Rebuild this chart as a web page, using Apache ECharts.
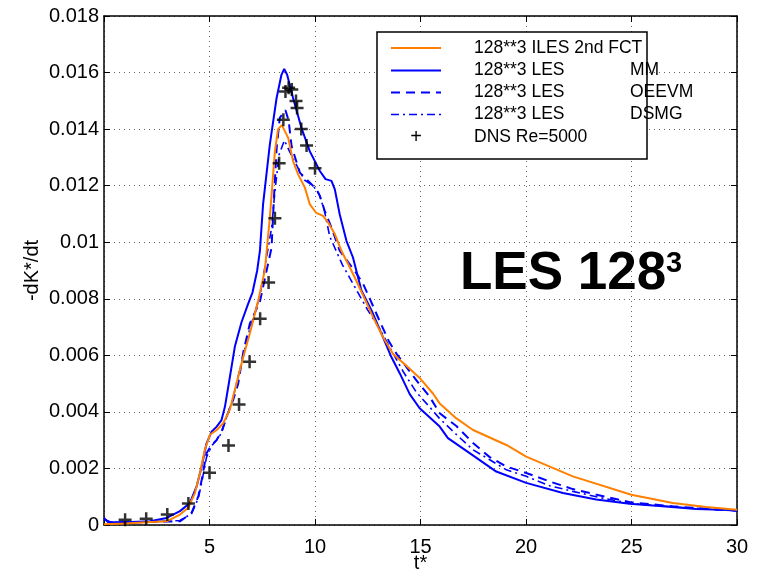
<!DOCTYPE html>
<html><head><meta charset="utf-8">
<script src="https://cdn.jsdelivr.net/npm/echarts@6/dist/echarts.min.js"></script>
<style>html,body{margin:0;padding:0;background:#fff}#c{width:761px;height:575px}</style>
</head><body><div id="c"></div>
<script>
// ---- data ----
const xTicks = [0, 5, 10, 15, 20, 25, 30];
const yTicks = [0, 0.002, 0.004, 0.006, 0.008, 0.01, 0.012, 0.014, 0.016, 0.018];

const ilesT = [0, 1, 2, 2.97, 3.6, 3.99, 4.31, 4.55, 4.78, 5.02, 5.34, 5.65, 5.97, 6.2, 6.6, 6.91, 7.31, 7.62, 7.86, 8.1, 8.25, 8.43, 8.73, 8.96, 9.2, 9.52, 9.75, 10.04, 10.38, 10.62, 10.94, 11.25, 11.57, 11.88, 12.28, 12.75, 13.22, 13.7, 14.33, 14.96, 15.59, 15.91, 16.7, 17.49, 19.07, 20.01, 22.22, 24.99, 26.96, 28.54, 30];
const ilesY = [0.00003, 0.00005, 0.0001, 0.00013, 0.00037, 0.00061, 0.00113, 0.00184, 0.00266, 0.00319, 0.00336, 0.0036, 0.0041, 0.00477, 0.00594, 0.00677, 0.00794, 0.009, 0.01087, 0.01322, 0.014, 0.01414, 0.01369, 0.01287, 0.0124, 0.01193, 0.01135, 0.01105, 0.01093, 0.0107, 0.01029, 0.0097, 0.00923, 0.00876, 0.00812, 0.00735, 0.00665, 0.00605, 0.00563, 0.0052, 0.00465, 0.0043, 0.00377, 0.00336, 0.00283, 0.00242, 0.00172, 0.00107, 0.00078, 0.00064, 0.00054];

const mmT = [0, 0.2, 1, 2.18, 2.97, 3.6, 4.07, 4.39, 4.63, 4.86, 5.1, 5.34, 5.57, 5.73, 5.89, 6.2, 6.52, 6.83, 7.04, 7.26, 7.39, 7.54, 7.86, 8.18, 8.41, 8.54, 8.68, 8.96, 9.36, 9.75, 10.23, 10.5, 10.78, 10.94, 11.17, 11.49, 11.8, 12.2, 12.68, 13.15, 13.62, 14.02, 14.49, 14.96, 15.91, 16.3, 17.33, 18.59, 20.01, 21.75, 23.33, 24.91, 26.48, 28.06, 30];
const mmY = [0.00025, 0.0001, 0.0001, 0.00013, 0.00025, 0.00049, 0.00078, 0.00137, 0.00207, 0.00289, 0.0033, 0.00348, 0.00371, 0.00418, 0.00489, 0.0063, 0.00718, 0.00782, 0.00823, 0.009, 0.0097, 0.01135, 0.01346, 0.0151, 0.01592, 0.01613, 0.01592, 0.0151, 0.01404, 0.01322, 0.01252, 0.01223, 0.01217, 0.01187, 0.01099, 0.01005, 0.00946, 0.00829, 0.00759, 0.00677, 0.00594, 0.00536, 0.00463, 0.00413, 0.00348, 0.00307, 0.00254, 0.00189, 0.00149, 0.00113, 0.0009, 0.00075, 0.00066, 0.00057, 0.00052];

const oeevmT = [0, 0.3, 2, 3, 3.6, 4.15, 4.47, 4.63, 4.86, 5.1, 5.34, 5.57, 5.81, 6.12, 6.36, 6.6, 6.91, 7.39, 7.65, 7.94, 8.05, 8.18, 8.33, 8.6, 8.75, 8.89, 9.28, 9.83, 10.07, 10.23, 10.46, 10.78, 11.17, 11.57, 11.96, 12.28, 12.6, 13.07, 13.5, 13.86, 14.8, 15.43, 15.91, 16.7, 17.49, 18.28, 19.07, 20.01, 21.12, 22.22, 23.3, 24.99, 26.96, 28.06, 30];
const oeevmY = [0.0002, 0.0001, 0.0001, 0.00012, 0.00013, 0.00043, 0.00101, 0.0016, 0.00254, 0.00283, 0.00301, 0.0033, 0.00383, 0.00442, 0.005, 0.0061, 0.00712, 0.0079, 0.0088, 0.0098, 0.0115, 0.0133, 0.0144, 0.01467, 0.0143, 0.0134, 0.01246, 0.01205, 0.01187, 0.01164, 0.01111, 0.01052, 0.0097, 0.0093, 0.0089, 0.00853, 0.008, 0.0072, 0.0065, 0.00606, 0.00512, 0.00454, 0.00395, 0.0035, 0.0029, 0.0024, 0.00207, 0.00184, 0.00154, 0.00127, 0.00108, 0.0008, 0.00066, 0.0006, 0.0005];

const dsmgT = [0, 0.3, 2, 3, 3.6, 4.15, 4.47, 4.63, 4.86, 5.1, 5.34, 5.57, 5.81, 6.12, 6.5, 6.9, 7.39, 7.62, 7.94, 8.1, 8.3, 8.55, 8.8, 9.0, 9.5, 9.9, 10.2, 10.45, 10.7, 11.3, 11.9, 12.5, 13.1, 13.6, 14.2, 14.8, 15.4, 15.9, 16.7, 17.49, 18.3, 19.07, 20.01, 21.12, 22.22, 23.5, 24.99, 27, 28.5, 30];
const dsmgY = [0.0002, 0.0001, 0.0001, 0.00014, 0.00016, 0.0004, 0.00095, 0.0015, 0.0024, 0.0028, 0.003, 0.00325, 0.0038, 0.0045, 0.0057, 0.0069, 0.0081, 0.0091, 0.0105, 0.0118, 0.0131, 0.0136, 0.0132, 0.0129, 0.0122, 0.012, 0.0117, 0.0111, 0.0102, 0.0092, 0.0084, 0.0076, 0.0069, 0.0062, 0.0054, 0.0047, 0.0042, 0.00377, 0.0032, 0.00266, 0.0023, 0.00195, 0.00172, 0.00139, 0.00119, 0.00097, 0.00076, 0.00064, 0.00057, 0.0005];

const dnsT = [1.0, 2.0, 3.0, 4.0, 5.0, 5.9, 6.4, 6.9, 7.4, 7.8, 8.1, 8.3, 8.5, 8.6, 8.75, 8.9, 9.1, 9.15, 9.35, 9.6, 10.0];
const dnsY = [0.00019, 0.00022, 0.00037, 0.00076, 0.00185, 0.00281, 0.00426, 0.00577, 0.00729, 0.00858, 0.01085, 0.01279, 0.01433, 0.01533, 0.01546, 0.0154, 0.01499, 0.01475, 0.014, 0.01342, 0.01262];

const names = ['128**3 ILES 2nd FCT', '128**3 LES', '128**3 LES', '128**3 LES', 'DNS Re=5000'];
const models = ['', 'MM', 'OEEVM', 'DSMG', ''];

// ---- chart ----
const zip = (a, b) => a.map((v, i) => [v, b[i]]);
const ORANGE = '#FF8000', BLUE = '#0000FF';
const FONT = 'Liberation Sans, Arial, sans-serif';
const styles = [
  {color: ORANGE, width: 2, type: 'solid'},
  {color: BLUE, width: 2, type: 'solid'},
  {color: BLUE, width: 2, type: [9, 6]},
  {color: BLUE, width: 1.6, type: [8, 4, 2, 4]}
];
const plus = 'path://M0,5.25 H5.25 V0 H7.75 V5.25 H13 V7.75 H7.75 V13 H5.25 V7.75 H0 Z';

const chart = echarts.init(document.getElementById('c'), null, {renderer: 'canvas'});
const gridLine = {show: true, lineStyle: {color: '#666', width: 1, type: [1, 4]}};
const xCommon = {type: 'value', min: 0, max: 30, interval: 5,
  axisLine: {show: true, onZero: false, lineStyle: {color: '#000', width: 1.5}},
  axisTick: {show: true, inside: true, length: 6, lineStyle: {color: '#000', width: 1}}};
const yCommon = {type: 'value', min: 0, max: 0.018, interval: 0.002,
  axisLine: {show: true, onZero: false, lineStyle: {color: '#000', width: 1.5}},
  axisTick: {show: true, inside: true, length: 6, lineStyle: {color: '#000', width: 1}}};

const lineSeries = [[ilesT, ilesY], [mmT, mmY], [oeevmT, oeevmY], [dsmgT, dsmgY]].map((d, i) => ({
  name: names[i] + ' ' + models[i], type: 'line', data: zip(d[0], d[1]), showSymbol: false, symbol: 'none',
  lineStyle: styles[i], itemStyle: {color: styles[i].color}, z: 3 + (i === 0 ? 1 : 0)
}));

// legend drawn as graphic inside box
const LX = 377, LY = 32, LW = 270, LH = 127;
const rowY = [48, 70.5, 92.5, 114.5, 137];
const legendEls = [{type: 'rect', shape: {x: LX, y: LY, width: LW, height: LH},
  style: {fill: '#fff', stroke: '#000', lineWidth: 1.5}, z: 10}];
for (let i = 0; i < 4; i++) {
  legendEls.push({type: 'line', shape: {x1: 391, y1: rowY[i], x2: 441, y2: rowY[i]},
    style: {stroke: styles[i].color, lineWidth: styles[i].width, lineDash: styles[i].type === 'solid' ? null : styles[i].type}, z: 11});
}
legendEls.push({type: 'text', x: 416, y: rowY[4], style: {text: '+', font: '20px ' + FONT, fill: '#000', align: 'center', verticalAlign: 'middle'}, z: 11});
for (let i = 0; i < 5; i++) {
  legendEls.push({type: 'text', x: 474, y: rowY[i], style: {text: names[i], font: '17.5px ' + FONT, fill: '#000', verticalAlign: 'middle'}, z: 11});
  if (models[i]) legendEls.push({type: 'text', x: 630, y: rowY[i], style: {text: models[i], font: '17.5px ' + FONT, fill: '#000', verticalAlign: 'middle'}, z: 11});
}

chart.setOption({
  animation: false,
  backgroundColor: '#fff',
  grid: {left: 104, right: 24, top: 16, bottom: 50, containLabel: false, outerBoundsMode: 'none'},
  xAxis: [
    Object.assign({}, xCommon, {position: 'bottom', name: 't*', nameLocation: 'middle', nameGap: 28, nameMoveOverlap: false,
      nameTextStyle: {fontSize: 20, fontFamily: FONT, color: '#000'},
      axisLabel: {fontSize: 20, fontFamily: FONT, color: '#000', margin: 12,
        formatter: v => (v === 0 ? '' : String(v))},
      splitLine: gridLine}),
    Object.assign({}, xCommon, {position: 'top', axisLabel: {show: false}, splitLine: {show: false}})
  ],
  yAxis: [
    Object.assign({}, yCommon, {position: 'left', name: '-dK*/dt', nameLocation: 'middle', nameGap: 62, nameRotate: 90, nameMoveOverlap: false,
      nameTextStyle: {fontSize: 20, fontFamily: FONT, color: '#000'},
      axisLabel: {fontSize: 20, fontFamily: FONT, color: '#000', margin: 5,
        formatter: v => (v === 0 ? '0' : (+v.toFixed(3)).toString())},
      splitLine: gridLine}),
    Object.assign({}, yCommon, {position: 'right', axisLabel: {show: false}, splitLine: {show: false}})
  ],
  series: lineSeries.concat([{
    name: names[4], type: 'scatter', data: zip(dnsT, dnsY), symbol: plus, symbolSize: 13,
    itemStyle: {color: '#000'}, z: 6
  }]),
  graphic: legendEls.concat([
    {type: 'text', x: 460, y: 274, style: {text: 'LES 128', font: 'bold 53px ' + FONT, fill: '#000', verticalAlign: 'middle'}, z: 12},
    {type: 'text', x: 666, y: 264, style: {text: '3', font: 'bold 29px ' + FONT, fill: '#000', verticalAlign: 'middle'}, z: 12}
  ])
});
</script></body></html>
